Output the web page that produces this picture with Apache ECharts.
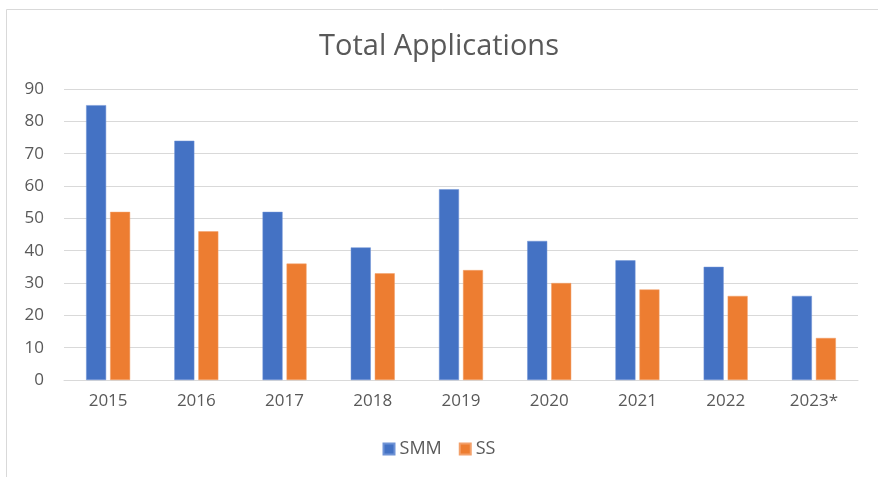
<!DOCTYPE html>
<html><head><meta charset="utf-8">
<script src="https://cdn.jsdelivr.net/npm/echarts@6/dist/echarts.min.js"></script>
<style>html,body{margin:0;padding:0;background:#fff}#c{width:878px;height:477px}</style>
</head><body><div id="c"></div>
<script>
const categories = ['2015','2016','2017','2018','2019','2020','2021','2022','2023*'];
const smm = [85, 74, 52, 41, 59, 43, 37, 35, 26];
const ss = [52, 46, 36, 33, 34, 30, 28, 26, 13];
const yTicks = [0, 90, 10];

const chart = echarts.init(document.getElementById('c'));
chart.setOption({
  animation: false,
  backgroundColor: '#fff',
  graphic: [{type:'rect', shape:{x:6.5, y:9.5, width:900, height:500}, style:{fill:'none', stroke:'#d9d9d9', lineWidth:1}, silent:true}],
  title: {text:'Total Applications', left:'center', top:27, textStyle:{fontFamily:'Open Sans', fontSize:29, fontWeight:'normal', color:'#595959'}},
  legend: {bottom:14, left:'center', itemWidth:11, itemHeight:11, itemGap:17, icon:'rect',
    textStyle:{fontFamily:'Open Sans', fontSize:18, color:'#595959'}},
  grid: {left:64, right:20, top:89, bottom:97, containLabel:false},
  xAxis: {type:'category', data:categories, axisTick:{show:false},
    axisLine:{lineStyle:{color:'#d9d9d9'}},
    axisLabel:{fontFamily:'Open Sans', fontSize:17, color:'#595959', margin:13}},
  yAxis: {type:'value', min:yTicks[0], max:yTicks[1], interval:yTicks[2],
    axisLine:{show:false}, axisTick:{show:false},
    splitLine:{lineStyle:{color:'#d9d9d9'}},
    axisLabel:{fontFamily:'Open Sans', fontSize:17, color:'#595959', margin:20}},
  series: [
    {name:'SMM', type:'bar', data:smm, barWidth:20, barGap:'20%', itemStyle:{color:'#4472c4', borderColor:'#6f93d6', borderWidth:0.5}},
    {name:'SS', type:'bar', data:ss, barWidth:20, itemStyle:{color:'#ed7d31', borderColor:'#f3a06a', borderWidth:0.5}}
  ]
});
</script></body></html>
